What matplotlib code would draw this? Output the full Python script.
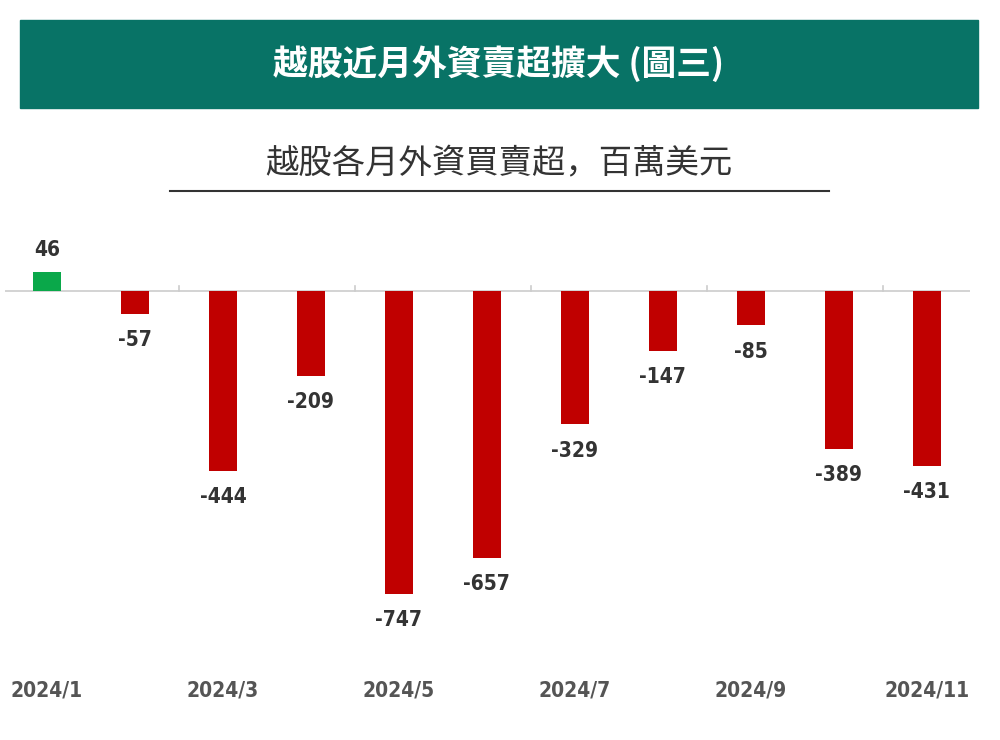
import matplotlib.pyplot as plt
from matplotlib.patches import Rectangle

CJK = "Noto Sans CJK JP"
plt.rcParams["font.family"] = [CJK, "DejaVu Sans"]

months = ["2024/1", "2024/2", "2024/3", "2024/4", "2024/5", "2024/6",
          "2024/7", "2024/8", "2024/9", "2024/10", "2024/11"]
values = [46, -57, -444, -209, -747, -657, -329, -147, -85, -389, -431]
title = "越股近月外資賣超擴大 (圖三)"
subtitle = "越股各月外資買賣超，百萬美元"

GREEN = "#0aa84a"
RED = "#c00000"
TEAL = "#087366"
NUM = dict(fontfamily="DejaVu Sans", fontstretch="condensed", fontweight="bold")

fig = plt.figure(figsize=(10, 7.4), dpi=100)

# banner
fig.patches.append(Rectangle((0.02, 1 - 108 / 740), 0.958, 88 / 740,
                             transform=fig.transFigure, color=TEAL, zorder=0))
fig.text(0.499, 1 - 64 / 740, title, color="white", fontsize=25,
         fontweight="bold", ha="center", va="center", fontfamily=CJK)
fig.text(0.499, 1 - 163 / 740, subtitle, color="#333333", fontsize=24,
         ha="center", va="center", fontfamily=CJK)
fig.add_artist(plt.Line2D([0.17, 0.829], [1 - 191 / 740] * 2,
                          transform=fig.transFigure, color="#333333", lw=1.5))

ax = fig.add_axes([0.005, 1 - 660 / 740, 0.965, 430 / 740])
x = list(range(len(months)))
colors = [GREEN if v >= 0 else RED for v in values]
ax.bar(x, values, width=0.32, color=colors, zorder=2)
ax.set_xlim(-0.477, 10.49)
ax.set_ylim(-909, 150)
ax.axhline(0, color="#cccccc", lw=1.2, zorder=1)
for b in [1.5, 3.5, 5.5, 7.5, 9.5]:
    ax.plot([b, b], [0, 12], color="#cccccc", lw=1.2, zorder=1)

for xi, v in zip(x, values):
    if v >= 0:
        ax.text(xi, v + 30, f"{v}", ha="center", va="bottom", fontsize=15,
                color="#333333", **NUM)
    else:
        ax.text(xi, v - 40, f"{v}", ha="center", va="top", fontsize=15,
                color="#333333", **NUM)

for xi, m in zip(x, months):
    if xi % 2 == 0:
        ax.text(xi, -985, m, ha="center", va="center", fontsize=15,
                color="#555555", clip_on=False, **NUM)

ax.axis("off")
fig.savefig("out.png", dpi=100)
